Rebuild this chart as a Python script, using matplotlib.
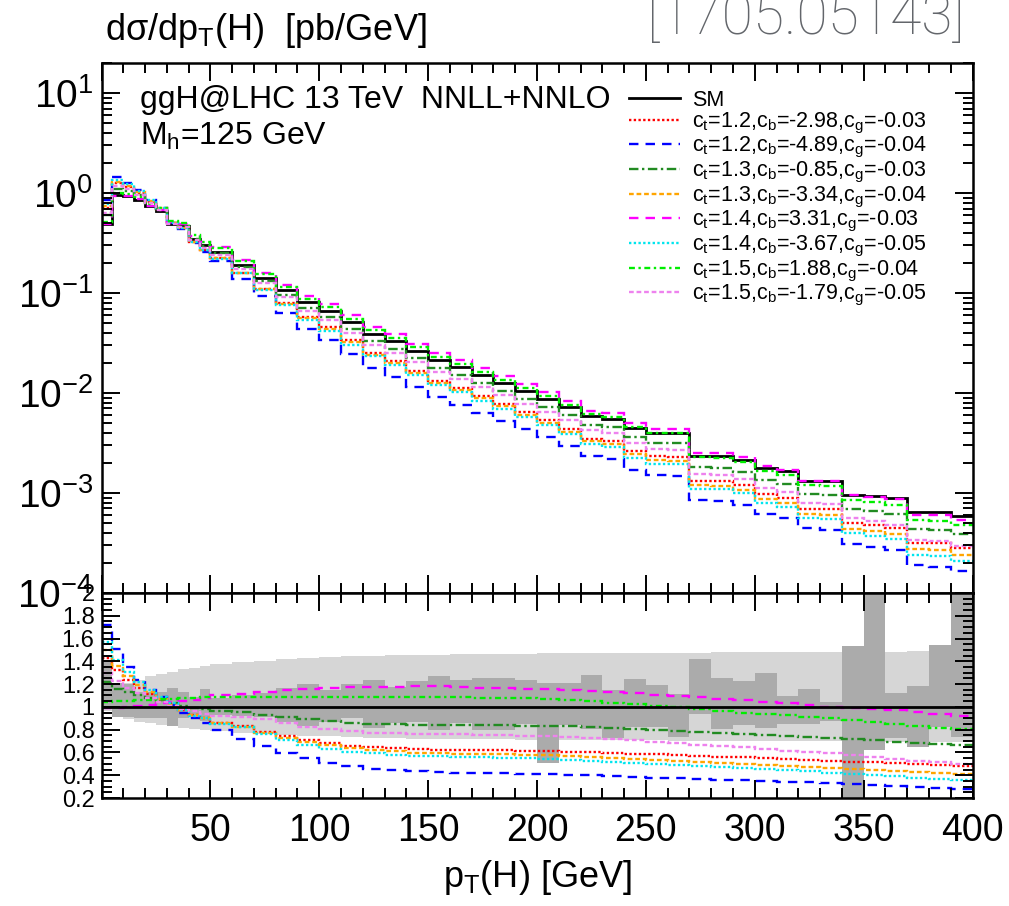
import numpy as np
import matplotlib
matplotlib.use("Agg")
import matplotlib.pyplot as plt
from matplotlib.ticker import MultipleLocator, FuncFormatter, LogLocator, NullFormatter

# bin edges in pT(H) [GeV]
edges = [0, 5, 10, 15, 20, 25, 30, 35, 40, 45, 50,
         60, 70, 80, 90, 100, 110, 120, 130, 140, 150, 160, 170, 180, 190, 200,
         210, 220, 230, 240, 250, 260, 270, 280, 290, 300, 310, 320, 330, 340, 350,
         360, 370, 380, 390, 400]

# SM distribution [pb/GeV]
sm = [0.49, 0.95, 0.93, 0.86, 0.735, 0.655, 0.49, 0.464, 0.35, 0.30, 0.26,
      0.192, 0.141, 0.106, 0.0805, 0.0665, 0.0508, 0.0392, 0.0328, 0.0265, 0.0213,
      0.0180, 0.0151, 0.0126, 0.0105, 0.00877, 0.00724, 0.00584, 0.00556, 0.00447, 0.00398,
      0.00398, 0.00232, 0.00232, 0.00215, 0.00178, 0.00165, 0.00131, 0.00131, 0.00096, 0.00093,
      0.00089, 0.00064, 0.00064, 0.00059]

# ratios to SM
r_red = [1.43, 1.32, 1.24, 1.17, 1.11, 1.06, 1.02, 0.97, 0.93, 0.90, 0.86, 0.832,
         0.782, 0.744, 0.709, 0.68, 0.66, 0.645, 0.636, 0.627, 0.625, 0.621, 0.62, 0.618, 0.616,
         0.615, 0.607, 0.6, 0.595, 0.589, 0.583, 0.577, 0.571, 0.563, 0.557, 0.548, 0.54, 0.533,
         0.525, 0.519, 0.513, 0.504, 0.498, 0.49, 0.481]
r_blue = [1.72, 1.51, 1.35, 1.24, 1.15, 1.09, 1.02, 0.95, 0.90, 0.86, 0.80, 0.715,
          0.657, 0.598, 0.548, 0.51, 0.481, 0.457, 0.443, 0.434, 0.428, 0.422, 0.42, 0.418, 0.415,
          0.413, 0.405, 0.399, 0.39, 0.384, 0.378, 0.372, 0.366, 0.36, 0.355, 0.349, 0.343, 0.337,
          0.328, 0.322, 0.313, 0.304, 0.296, 0.287, 0.281]
r_dkgreen = [1.22, 1.16, 1.13, 1.10, 1.08, 1.06, 1.03, 1.01, 0.99, 0.98, 0.96, 0.953,
             0.93, 0.91, 0.89, 0.873, 0.86, 0.852, 0.848, 0.845, 0.843, 0.84, 0.838, 0.837, 0.836,
             0.835, 0.83, 0.823, 0.815, 0.806, 0.8, 0.791, 0.782, 0.773, 0.762, 0.753, 0.747, 0.738,
             0.729, 0.721, 0.709, 0.694, 0.683, 0.674, 0.665]
r_orange = [1.50, 1.36, 1.27, 1.19, 1.13, 1.07, 1.02, 0.97, 0.93, 0.90, 0.86, 0.826,
            0.773, 0.731, 0.694, 0.662, 0.636, 0.619, 0.61, 0.598, 0.592, 0.59, 0.586, 0.583, 0.58,
            0.577, 0.568, 0.563, 0.554, 0.545, 0.536, 0.528, 0.519, 0.51, 0.501, 0.49, 0.481, 0.472,
            0.463, 0.454, 0.446, 0.437, 0.428, 0.417, 0.408]
r_magenta = [0.99, 0.99, 1.00, 1.01, 1.02, 1.03, 1.04, 1.05, 1.06, 1.08, 1.10, 1.113,
             1.133, 1.148, 1.16, 1.168, 1.175, 1.177, 1.177, 1.18, 1.18, 1.175, 1.17, 1.165, 1.16,
             1.157, 1.148, 1.137, 1.128, 1.119, 1.107, 1.096, 1.084, 1.072, 1.058, 1.046, 1.031, 1.017,
             1.002, 0.993, 0.981, 0.97, 0.952, 0.935, 0.92]
r_cyan = [1.57, 1.41, 1.31, 1.22, 1.15, 1.09, 1.03, 0.97, 0.92, 0.90, 0.85, 0.82,
          0.76, 0.709, 0.665, 0.63, 0.60, 0.592, 0.578, 0.572, 0.569, 0.563, 0.557, 0.552, 0.547,
          0.542, 0.533, 0.525, 0.513, 0.504, 0.495, 0.487, 0.478, 0.469, 0.46, 0.451, 0.443, 0.434,
          0.422, 0.41, 0.399, 0.39, 0.378, 0.366, 0.355]
r_lime = [1.04, 1.05, 1.05, 1.06, 1.06, 1.07, 1.07, 1.08, 1.08, 1.09, 1.09, 1.09,
          1.09, 1.09, 1.09, 1.09, 1.09, 1.09, 1.088, 1.088, 1.085, 1.085, 1.08, 1.078, 1.074,
          1.069, 1.06, 1.052, 1.037, 1.023, 1.008, 0.996, 0.979, 0.964, 0.949, 0.937, 0.926, 0.914,
          0.9, 0.885, 0.87, 0.85, 0.835, 0.817, 0.806]
r_violet = [1.30, 1.23, 1.17, 1.12, 1.08, 1.04, 1.01, 0.98, 0.96, 0.94, 0.92, 0.91,
            0.89, 0.86, 0.826, 0.806, 0.79, 0.773, 0.768, 0.765, 0.762, 0.76, 0.756, 0.752, 0.748,
            0.744, 0.738, 0.729, 0.721, 0.709, 0.694, 0.68, 0.665, 0.657, 0.645, 0.63, 0.615, 0.6,
            0.592, 0.58, 0.563, 0.542, 0.528, 0.513, 0.501]

# scale uncertainty band (light) and statistical band (dark)
scale_hi = [1.08, 1.17, 1.21, 1.24, 1.27, 1.29, 1.31, 1.33, 1.345, 1.36, 1.375,
            1.39, 1.405, 1.42, 1.43, 1.44, 1.445, 1.45, 1.452, 1.455, 1.458, 1.46, 1.462, 1.465, 1.468,
            1.47, 1.47, 1.472, 1.473, 1.474, 1.475, 1.476, 1.477, 1.478, 1.479, 1.48, 1.481, 1.482,
            1.483, 1.484, 1.485, 1.486, 1.487, 1.488, 1.49]
scale_lo = [0.96, 0.92, 0.89, 0.87, 0.855, 0.84, 0.83, 0.815, 0.805, 0.795, 0.785,
            0.77, 0.76, 0.75, 0.745, 0.74, 0.735, 0.73, 0.726, 0.722, 0.72, 0.718, 0.716, 0.714, 0.712,
            0.71, 0.709, 0.708, 0.707, 0.706, 0.705, 0.704, 0.703, 0.702, 0.701, 0.70, 0.699, 0.698,
            0.697, 0.696, 0.695, 0.694, 0.693, 0.692, 0.69]
stat_hi = [1.40, 1.21, 1.20, 1.13, 1.13, 1.13, 1.17, 1.13, 1.09, 1.16, 1.08, 1.10,
           1.125, 1.163, 1.198, 1.148, 1.198, 1.236, 1.177, 1.23, 1.271, 1.236, 1.25, 1.251, 1.236,
           1.207, 1.207, 1.28, 1.148, 1.245, 1.192, 1.113, 1.42, 1.254, 1.227, 1.297, 1.096, 1.157,
           1.043, 1.534, 2.0, 1.119, 1.183, 1.543, 2.0]
stat_lo = [0.98, 0.91, 0.91, 0.90, 0.90, 0.90, 0.83, 0.90, 0.93, 0.88, 0.93, 0.92,
           0.914, 0.87, 0.832, 0.87, 0.90, 0.812, 0.856, 0.87, 0.80, 0.856, 0.80, 0.797, 0.85,
           0.505, 0.841, 0.803, 0.73, 0.826, 0.826, 0.738, 0.937, 0.806, 0.841, 0.817, 0.85, 0.85,
           0.879, 0.2, 0.621, 0.73, 0.65, 0.826, 0.738]

labels = ["c$_t$=1.2,c$_b$=-2.98,c$_g$=-0.03",
          "c$_t$=1.2,c$_b$=-4.89,c$_g$=-0.04",
          "c$_t$=1.3,c$_b$=-0.85,c$_g$=-0.03",
          "c$_t$=1.3,c$_b$=-3.34,c$_g$=-0.04",
          "c$_t$=1.4,c$_b$=3.31,c$_g$=-0.03",
          "c$_t$=1.4,c$_b$=-3.67,c$_g$=-0.05",
          "c$_t$=1.5,c$_b$=1.88,c$_g$=-0.04",
          "c$_t$=1.5,c$_b$=-1.79,c$_g$=-0.05"]
ratios = [r_red, r_blue, r_dkgreen, r_orange, r_magenta, r_cyan, r_lime, r_violet]
colors = ["#ff0000", "#0000ff", "#228b22", "#ffa500", "#ff00ff", "#00e5ee", "#00ee00", "#ee82ee"]
styles = [(0, (1, 1)), (0, (4, 3)), (0, (4, 1.5, 1, 1.5)), (0, (2, 1.2)),
          (0, (4, 3)), (0, (1, 1)), (0, (2.5, 1.5, 1, 1.5)), (0, (2, 1.2))]

plt.rcParams['font.family'] = ['Liberation Sans', 'DejaVu Sans']
plt.rcParams['mathtext.default'] = 'regular'

lw = 1.7
fig = plt.figure(figsize=(10.09, 9.06), dpi=100)
ax1 = fig.add_axes([0.1006, 0.3455, 0.8633, 0.585])
ax2 = fig.add_axes([0.1006, 0.1192, 0.8633, 0.2263])

sm_arr = np.array(sm)
ax1.stairs(sm_arr, edges, color="black", lw=2.0, label="SM", baseline=None)
for r, c, ls, lab in zip(ratios, colors, styles, labels):
    ax1.stairs(sm_arr * np.array(r), edges, color=c, lw=lw, linestyle=ls, label=lab, baseline=None)

ax1.set_yscale("log")
ax1.set_ylim(1e-4, 20)
ax1.set_xlim(0, 400)
ax1.yaxis.set_major_locator(LogLocator(base=10, numticks=10))
ax1.yaxis.set_minor_locator(LogLocator(base=10, subs=np.arange(2, 10), numticks=20))
ax1.yaxis.set_minor_formatter(NullFormatter())
ax1.tick_params(axis="x", labelbottom=False)

ax1.text(0.044, 0.93, "ggH@LHC 13 TeV  NNLL+NNLO", transform=ax1.transAxes, fontsize=23, va="center")
ax1.text(0.044, 0.862, "M$_h$=125 GeV", transform=ax1.transAxes, fontsize=23, va="center")
ax1.legend(loc="upper left", bbox_to_anchor=(0.605, 0.949), frameon=False, fontsize=15.5,
           handlelength=2.4, handletextpad=0.55, labelspacing=-0.02, borderpad=0, borderaxespad=0)

# ratio panel
ax2.stairs(scale_hi, edges, baseline=scale_lo, fill=True, color="#d6d6d6", lw=0)
ax2.stairs(stat_hi, edges, baseline=stat_lo, fill=True, color="#ababab", lw=0)
ax2.axhline(1.0, color="black", lw=2.0)
for r, c, ls in zip(ratios, colors, styles):
    ax2.stairs(r, edges, color=c, lw=lw, linestyle=ls, baseline=None)
ax2.set_xlim(0, 400)
ax2.set_ylim(0.2, 2.0)
ax2.yaxis.set_major_locator(MultipleLocator(0.2))
ax2.yaxis.set_minor_locator(MultipleLocator(0.05))
ax2.yaxis.set_major_formatter(FuncFormatter(lambda v, p: "%g" % round(v, 2)))
ax2.xaxis.set_major_formatter(FuncFormatter(lambda v, p: "" if v == 0 else "%d" % v))

for ax in (ax1, ax2):
    ax.xaxis.set_major_locator(MultipleLocator(50))
    ax.xaxis.set_minor_locator(MultipleLocator(10))
    ax.tick_params(which="both", direction="in", top=True, right=True, width=1.4)
    ax.tick_params(which="major", length=13)
    ax.tick_params(which="minor", length=7)
    for s in ax.spines.values():
        s.set_linewidth(1.8)
ax1.tick_params(axis="y", which="major", labelsize=28, pad=6)
ax2.tick_params(axis="y", which="major", labelsize=17, pad=5)
ax2.tick_params(axis="x", which="major", labelsize=27, pad=11)

ax2.set_xlabel("p$_T$(H) [GeV]", fontsize=26, labelpad=6)
fig.text(0.104, 0.966, "dσ/dp$_T$(H)  [pb/GeV]", fontsize=26, va="center")
fig.text(0.9564, 0.962, "[1705.05143]", fontsize=41, color="#63666b", ha="right", va="baseline",
         family=["Roboto", "Lato", "Liberation Sans"], fontweight="light")

fig.savefig("out.png", dpi=100)
